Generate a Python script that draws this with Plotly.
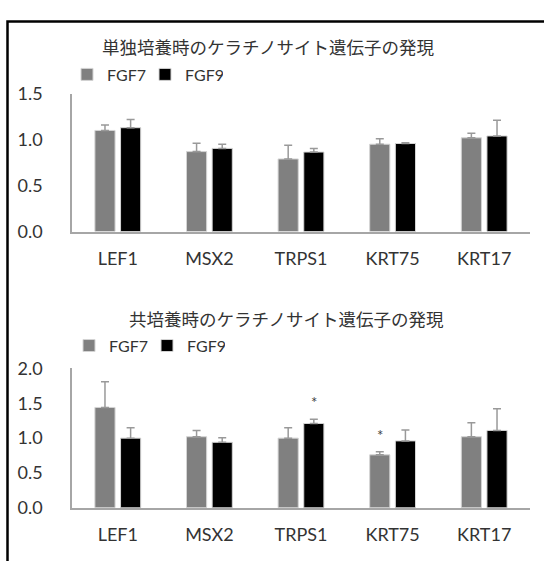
import plotly.graph_objects as go

# Gene expression of keratinocytes, relative to control
genes = ["LEF1", "MSX2", "TRPS1", "KRT75", "KRT17"]
series_names = ["FGF7", "FGF9"]

# Monoculture
mono_fgf7 = [1.10, 0.87, 0.79, 0.95, 1.02]
mono_fgf7_err = [0.06, 0.09, 0.15, 0.06, 0.05]
mono_fgf9 = [1.13, 0.905, 0.865, 0.958, 1.04]
mono_fgf9_err = [0.09, 0.045, 0.04, 0.008, 0.17]

# Co-culture
co_fgf7 = [1.44, 1.02, 1.00, 0.76, 1.02]
co_fgf7_err = [0.37, 0.09, 0.15, 0.045, 0.20]
co_fgf9 = [1.00, 0.94, 1.21, 0.96, 1.11]
co_fgf9_err = [0.15, 0.065, 0.06, 0.155, 0.31]

# Significance marks (co-culture): (gene index, series index)
co_signif = [(2, 1), (3, 0)]

titles = ["単独培養時のケラチノサイト遺伝子の発現", "共培養時のケラチノサイト遺伝子の発現"]
mono_ticks = [0.0, 0.5, 1.0, 1.5]
co_ticks = [0.0, 0.5, 1.0, 1.5, 2.0]

W, H = 544, 571
COLORS = ["#808080", "#000000"]
OFFSET = 0.14
BAR_W = 0.22
TXT = "#333333"
AXIS_LINE = "#a6a6a6"
ERR_COLOR = "#999999"


def px_x(p):
    return p / W


def px_y(p):
    return 1 - p / H


fig = go.Figure()

panels = [
    ("x", "y", "legend", [mono_fgf7, mono_fgf9], [mono_fgf7_err, mono_fgf9_err]),
    ("x2", "y2", "legend2", [co_fgf7, co_fgf9], [co_fgf7_err, co_fgf9_err]),
]

xpos = list(range(len(genes)))
for xa, ya, leg, vals, errs in panels:
    for s, name in enumerate(series_names):
        shift = -OFFSET if s == 0 else OFFSET
        fig.add_trace(go.Bar(
            x=[i + shift for i in xpos],
            y=vals[s],
            width=BAR_W,
            name=name,
            xaxis=xa,
            yaxis=ya,
            legend=leg,
            marker=dict(color=COLORS[s], line=dict(color="#d4d4d4", width=1)),
            error_y=dict(type="data", array=errs[s], symmetric=False,
                         arrayminus=[0] * len(genes),
                         color=ERR_COLOR, thickness=1.5, width=4),
        ))

# asterisks above the significant co-culture bars
co_vals = [co_fgf7, co_fgf9]
co_errs = [co_fgf7_err, co_fgf9_err]
for gi, si in co_signif:
    shift = -OFFSET if si == 0 else OFFSET
    fig.add_annotation(
        x=gi + shift, y=co_vals[si][gi] + co_errs[si][gi],
        xref="x2", yref="y2", text="*", showarrow=False,
        yanchor="middle", yshift=17,
        font=dict(family="Lato", size=15, color="#404040"),
    )

# panel titles
fig.add_annotation(x=px_x(268), y=px_y(36), xref="paper", yref="paper",
                   text=titles[0], showarrow=False, xanchor="center", yanchor="middle",
                   font=dict(family="Noto Sans CJK JP", size=17.5, color=TXT))
fig.add_annotation(x=px_x(286), y=px_y(319), xref="paper", yref="paper",
                   text=titles[1], showarrow=False, xanchor="center", yanchor="middle",
                   font=dict(family="Noto Sans CJK JP", size=17.5, color=TXT))

xdom = [px_x(72), px_x(530)]
xcommon = dict(
    domain=xdom, range=[-0.5, len(genes) - 0.5],
    tickvals=xpos, ticktext=genes, showgrid=False, zeroline=False,
    showline=True, linecolor=AXIS_LINE, linewidth=1.5, ticks="",
    ticklabelstandoff=10,
    tickfont=dict(family="Lato", size=18, color=TXT), fixedrange=True,
)
ycommon = dict(
    showgrid=False, zeroline=False, showline=True, linecolor=AXIS_LINE,
    linewidth=1.5, ticks="", ticklabelstandoff=24, tickformat=".1f",
    tickfont=dict(family="Lato", size=18, color=TXT), fixedrange=True,
)

legcommon = dict(
    orientation="h", xanchor="left", yanchor="middle",
    font=dict(family="Lato", size=16, color=TXT),
    bgcolor="rgba(0,0,0,0)", itemwidth=30, entrywidth=33,
    entrywidthmode="pixels", traceorder="normal",
)

fig.update_layout(
    width=W, height=H,
    margin=dict(l=0, r=0, t=0, b=0),
    paper_bgcolor="white", plot_bgcolor="white",
    barmode="overlay",
    showlegend=True,
    xaxis=dict(anchor="y", **xcommon),
    xaxis2=dict(anchor="y2", **xcommon),
    yaxis=dict(anchor="x", domain=[px_y(228.3), px_y(85)], range=[0, 1.5],
               tickvals=mono_ticks, **ycommon),
    yaxis2=dict(anchor="x2", domain=[px_y(515.7), px_y(370.7)], range=[0, 2.0],
                tickvals=co_ticks, **ycommon),
    legend=dict(x=px_x(67), y=px_y(65), **legcommon),
    legend2=dict(x=px_x(69), y=px_y(347), **legcommon),
)

# frame around the chart area (top and left edges)
fig.add_shape(type="path", xref="paper", yref="paper",
              path=f"M {px_x(7.5)} 0 L {px_x(7.5)} {px_y(10)} L 1 {px_y(10)}",
              line=dict(color="black", width=2.5))

fig.write_html("out.html")
